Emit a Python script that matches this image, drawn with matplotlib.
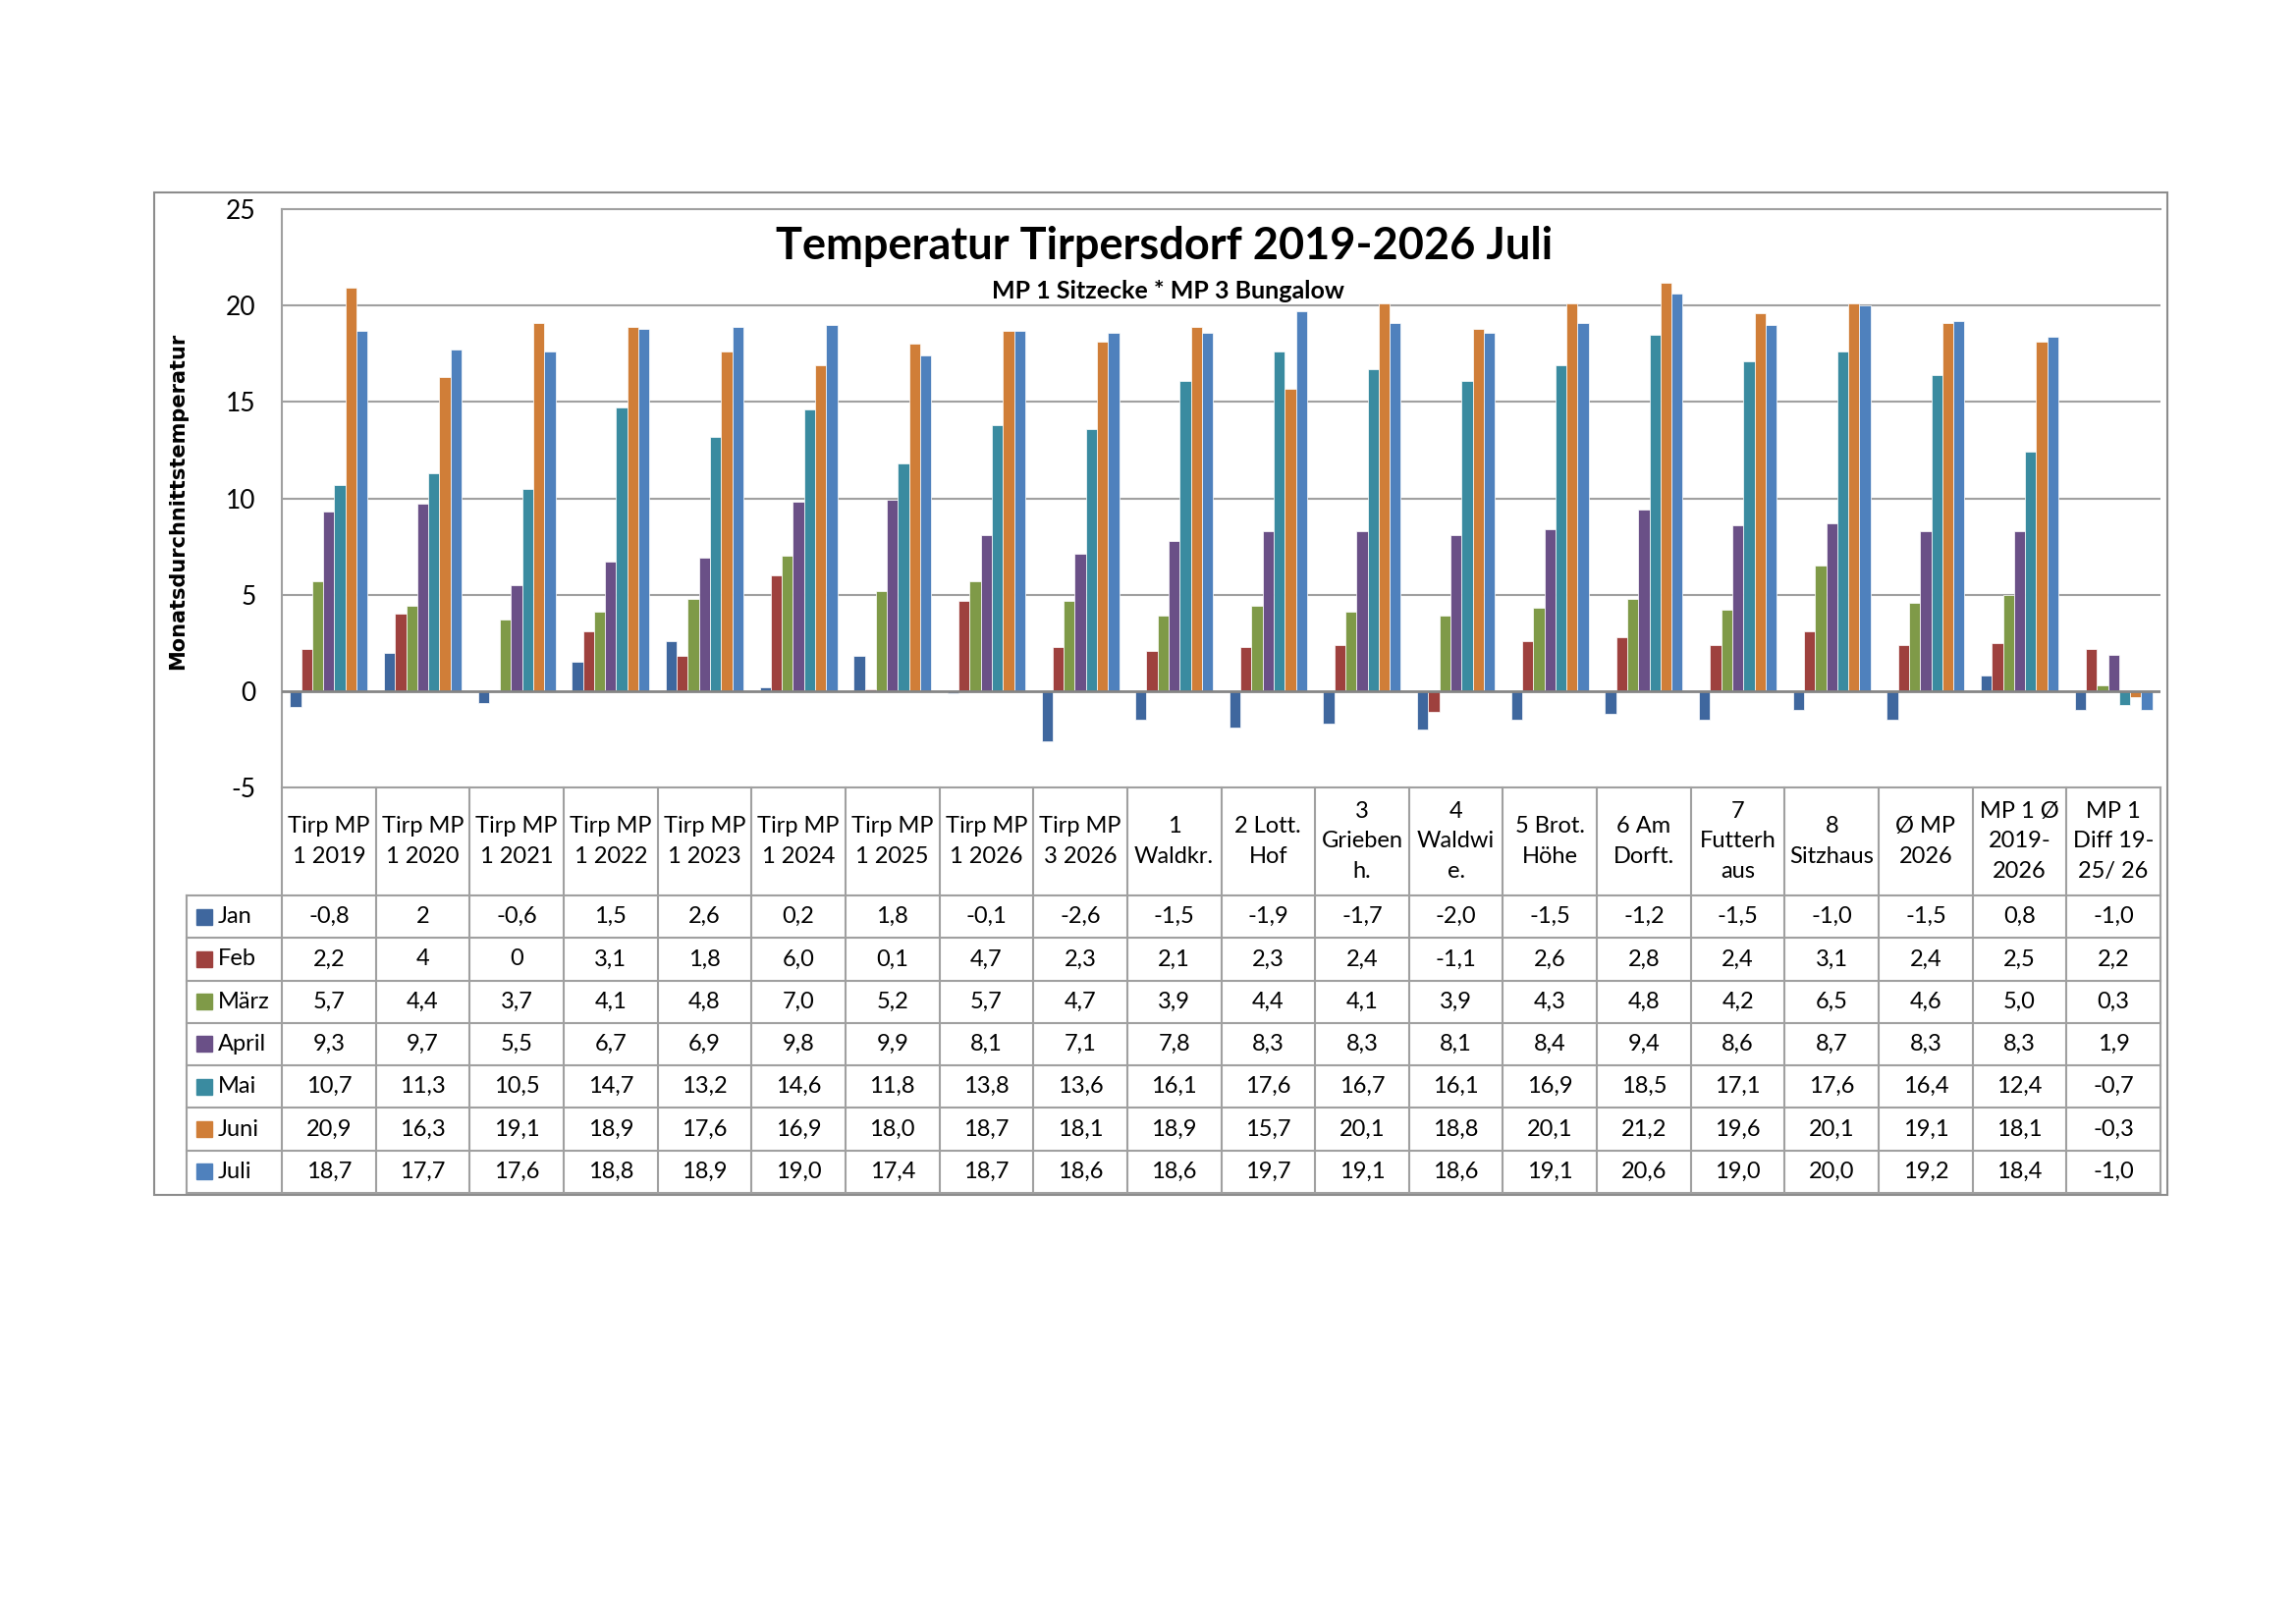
#Temperatur Tirpersdorf - Balkendiagramm mit Datentabelle
import matplotlib.pyplot as plt
from matplotlib.patches import Rectangle
import numpy as np

plt.rcParams['font.family'] = ['Lato', 'DejaVu Sans']
plt.rcParams['axes.unicode_minus'] = False

# Daten
stationen = ['Tirp MP\n1 2019', 'Tirp MP\n1 2020', 'Tirp MP\n1 2021', 'Tirp MP\n1 2022',
             'Tirp MP\n1 2023', 'Tirp MP\n1 2024', 'Tirp MP\n1 2025', 'Tirp MP\n1 2026',
             'Tirp MP\n3 2026', '1\nWaldkr.', '2 Lott.\nHof', '3\nGrieben\nh.',
             '4\nWaldwi\ne.', '5 Brot.\nHöhe', '6 Am\nDorft.', '7\nFutterh\naus',
             '8\nSitzhaus', 'Ø MP\n2026', 'MP 1 Ø\n2019-\n2026', 'MP 1\nDiff 19-\n25/ 26']
monate = ['Jan', 'Feb', 'März', 'April', 'Mai', 'Juni', 'Juli']
jan = [-0.8, 2, -0.6, 1.5, 2.6, 0.2, 1.8, -0.1, -2.6, -1.5, -1.9, -1.7, -2.0, -1.5, -1.2, -1.5, -1.0, -1.5, 0.8, -1.0]
feb = [2.2, 4, 0, 3.1, 1.8, 6.0, 0.1, 4.7, 2.3, 2.1, 2.3, 2.4, -1.1, 2.6, 2.8, 2.4, 3.1, 2.4, 2.5, 2.2]
maerz = [5.7, 4.4, 3.7, 4.1, 4.8, 7.0, 5.2, 5.7, 4.7, 3.9, 4.4, 4.1, 3.9, 4.3, 4.8, 4.2, 6.5, 4.6, 5.0, 0.3]
april = [9.3, 9.7, 5.5, 6.7, 6.9, 9.8, 9.9, 8.1, 7.1, 7.8, 8.3, 8.3, 8.1, 8.4, 9.4, 8.6, 8.7, 8.3, 8.3, 1.9]
mai = [10.7, 11.3, 10.5, 14.7, 13.2, 14.6, 11.8, 13.8, 13.6, 16.1, 17.6, 16.7, 16.1, 16.9, 18.5, 17.1, 17.6, 16.4, 12.4, -0.7]
juni = [20.9, 16.3, 19.1, 18.9, 17.6, 16.9, 18.0, 18.7, 18.1, 18.9, 15.7, 20.1, 18.8, 20.1, 21.2, 19.6, 20.1, 19.1, 18.1, -0.3]
juli = [18.7, 17.7, 17.6, 18.8, 18.9, 19.0, 17.4, 18.7, 18.6, 18.6, 19.7, 19.1, 18.6, 19.1, 20.6, 19.0, 20.0, 19.2, 18.4, -1.0]
werte = [jan, feb, maerz, april, mai, juni, juli]
# Zellen, die in der Tabelle ohne Nachkommastelle stehen (Zeile, Spalte)
ganzzahlig = [(0, 1), (1, 1), (1, 2)]

farben = ['#3f679e', '#9e413e', '#7f9a48', '#6a5087', '#3a8ba0', '#d07e38', '#4f81bd']
grau = '#a0a0a0'

W, H = 2338, 1653
fig = plt.figure(figsize=(W / 100, H / 100), dpi=100)

def fx(x):
    return x / W

def fy(y):
    return 1 - y / H

# Rahmen um das Diagramm
fig.patches.append(Rectangle((fx(157), fy(1217)), fx(2207) - fx(157), fy(196) - fy(1217),
                             transform=fig.transFigure, fill=False, edgecolor='#8c8c8c', lw=1.5))

# Diagrammflaeche
ax = fig.add_axes([fx(287), fy(802), fx(2200) - fx(287), fy(213) - fy(802)])
x = np.arange(len(stationen))
b = 0.118
for i in range(7):
    ax.bar(x + (i - 3) * b, werte[i], width=b, color=farben[i], edgecolor='white', linewidth=0.5, zorder=3)

ax.set_xlim(-0.5, 19.5)
ax.set_ylim(-5, 25)
ax.set_yticks(range(-5, 26, 5))
ax.set_xticks([])
ax.tick_params(axis='y', length=0, pad=19, labelsize=19)
for v in range(5, 25, 5):
    ax.axhline(v, color=grau, lw=1.5, zorder=1)
ax.axhline(0, color='#858585', lw=2, zorder=4)
for s in ['left', 'bottom', 'top']:
    ax.spines[s].set_color(grau)
    ax.spines[s].set_linewidth(1.5)
ax.spines['right'].set_visible(False)

fig.text(fx(181), fy(510), 'Monatsdurchnittstemperatur', rotation=90, ha='center', va='center',
         fontsize=15, fontweight='bold', family='DejaVu Sans')
fig.text(fx(1186), fy(264), 'Temperatur Tirpersdorf 2019-2026 Juli', ha='center', va='baseline',
         fontsize=32.5, fontweight='bold')
fig.text(fx(1190), fy(304), 'MP 1 Sitzecke * MP 3 Bungalow', ha='center', va='baseline',
         fontsize=18, fontweight='bold')

# Datentabelle
kopf = 110
zeile = 43.3
x0 = -0.5 - 97 / 95.65
tab = fig.add_axes([fx(190), fy(1215), fx(2200) - fx(190), fy(802) - fy(1215)])
tab.set_xlim(x0, 19.5)
tab.set_ylim(kopf + 7 * zeile, 0)
tab.axis('off')

for k in range(8):
    tab.plot([x0, 19.5], [kopf + k * zeile] * 2, color=grau, lw=1.5, clip_on=False)
for i in range(21):
    tab.plot([i - 0.5] * 2, [0, kopf + 7 * zeile], color=grau, lw=1.5, clip_on=False)
tab.plot([x0] * 2, [kopf, kopf + 7 * zeile], color=grau, lw=1.5, clip_on=False)

for i, name in enumerate(stationen):
    tab.text(i, kopf / 2, name, ha='center', va='center', fontsize=17, linespacing=1.55)

for r in range(7):
    yc = kopf + (r + 0.5) * zeile
    tab.plot(x0 + 17.5 / 95.65, yc, marker='s', ms=11, color=farben[r], clip_on=False)
    tab.text(x0 + 32 / 95.65, yc, monate[r], ha='left', va='center', fontsize=17)
    for i, v in enumerate(werte[r]):
        if (r, i) in ganzzahlig:
            t = str(int(v))
        else:
            t = f'{v:.1f}'.replace('.', ',')
        tab.text(i, yc, t, ha='center', va='center', fontsize=17)

plt.savefig('out.png', dpi=100)
